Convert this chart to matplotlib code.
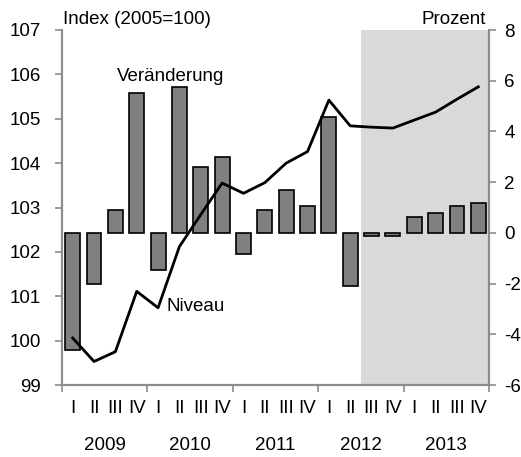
import matplotlib
matplotlib.use("Agg")
import matplotlib.pyplot as plt
import matplotlib.transforms as mtransforms
import numpy as np

plt.rcParams['font.family'] = ['Liberation Sans', 'DejaVu Sans']
plt.rcParams['axes.unicode_minus'] = False

years = ["2009", "2010", "2011", "2012", "2013"]
quarters = ["I", "II", "III", "IV"]
veraenderung = [-4.6, -2.0, 0.9, 5.5, -1.45, 5.75, 2.6, 3.0, -0.84, 0.92,
                1.7, 1.04, 4.55, -2.1, -0.12, -0.12, 0.64, 0.8, 1.06, 1.19]
niveau = [100.06, 99.53, 99.75, 101.11, 100.74, 102.12, 102.84, 103.55, 103.32, 103.56,
          104.0, 104.26, 105.42, 104.84, 104.81, 104.79, 104.97, 105.15, 105.44, 105.72]
forecast_start = 14  # 2012 Q3

W, H = 521, 457
fig = plt.figure(figsize=(W / 100, H / 100), dpi=100)
L, R, T, B = 62, 489, 30, 385
ax = fig.add_axes([L / W, 1 - B / H, (R - L) / W, (B - T) / H])

n = len(veraenderung)
x = np.arange(n) + 0.5
grey = '#8c8c8c'
fs = 13.5

ax.axvspan(forecast_start, n, color='#d9d9d9', lw=0, zorder=0)
ax.bar(x, veraenderung, width=0.7, color='#808080', edgecolor='black', linewidth=1.2, zorder=2)
ax.set_xlim(0, n)
ax.set_ylim(-6, 8)
ax.set_yticks(np.arange(-6, 9, 2))

ax2 = ax.twinx()
ax2.plot(x, niveau, color='black', linewidth=2.0, zorder=3)
ax2.set_ylim(99, 107)
ax2.set_yticks(np.arange(99, 108, 1))
ax2.yaxis.tick_left()
ax2.tick_params(axis='y', direction='out', length=5, color=grey, width=1.2, labelsize=fs, pad=10)

ax.yaxis.tick_right()
ax.tick_params(axis='y', direction='out', length=5, color=grey, width=1.2, labelsize=fs, pad=6)

for a in (ax, ax2):
    a.spines['top'].set_visible(False)
    for s in ('left', 'right', 'bottom'):
        a.spines[s].set_color(grey)
        a.spines[s].set_linewidth(1.5)

# x axis: year boundary ticks and quarter labels
ax.set_xticks(np.arange(0, n + 1, 4))
ax.set_xticklabels([])
ax.tick_params(axis='x', direction='out', length=5, color=grey, width=1.2)
ax.set_xticks(x, minor=True)
ax.set_xticklabels(quarters * len(years), minor=True)
ax.tick_params(axis='x', which='minor', length=0, labelsize=fs, pad=11)
ax2.tick_params(axis='x', which='both', length=0, labelbottom=False)

trans = mtransforms.blended_transform_factory(ax.transData, fig.transFigure)
for i, yname in enumerate(years):
    ax.text(4 * i + 2, 1 - 446 / H, yname, transform=trans, ha='center', va='center', fontsize=fs)

fig.text(63 / W, 1 - 20 / H, "Index (2005=100)", ha='left', va='center', fontsize=fs)
fig.text(486 / W, 1 - 20 / H, "Prozent", ha='right', va='center', fontsize=fs)
ax2.text(5.1, 105.96, "Veränderung", ha='center', va='center', fontsize=fs)
ax2.text(6.28, 100.76, "Niveau", ha='center', va='center', fontsize=fs)

fig.savefig("out.png", dpi=100)
